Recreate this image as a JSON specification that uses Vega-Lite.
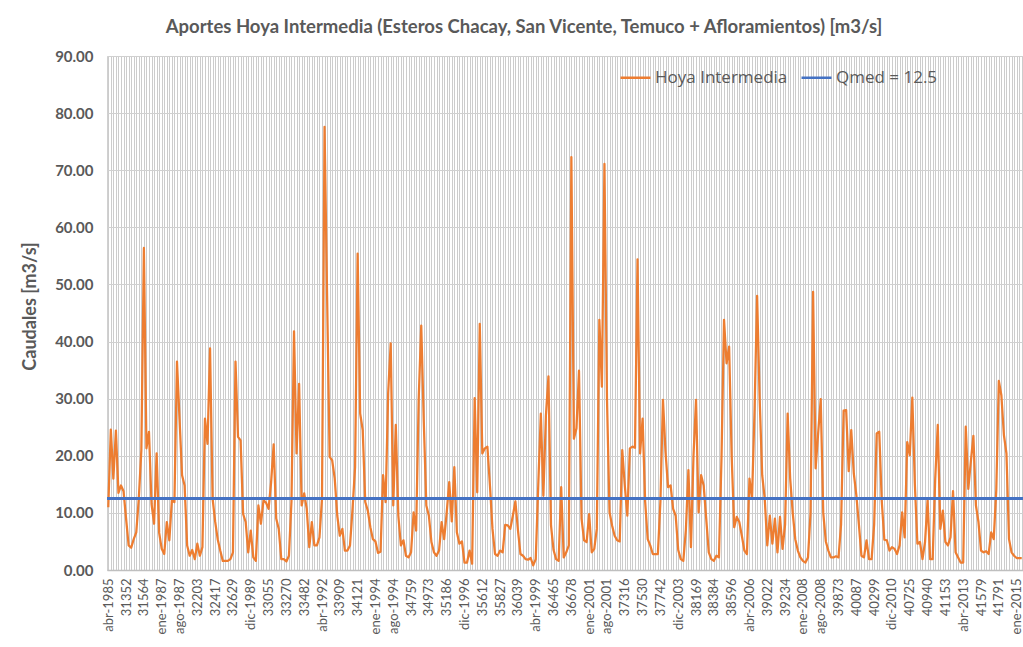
{
  "$schema": "https://vega.github.io/schema/vega-lite/v6.json",
  "autosize": {"type": "none"},
  "width": 916,
  "height": 514,
  "padding": {"left": 107, "top": 56, "right": 0, "bottom": 77},
  "background": "white",
  "title": {
    "text": "Aportes Hoya Intermedia (Esteros Chacay, San Vicente, Temuco + Afloramientos) [m3/s]",
    "font": "Lato", "fontSize": 18.5, "fontWeight": "bold", "color": "#595959",
    "anchor": "middle", "dx": -41, "offset": 13
  },
  "data": {"values": [
{"i":0,"q":11.0},{"i":1,"q":24.6},{"i":2,"q":16.0},{"i":3,"q":24.4},{"i":4,"q":13.5},{"i":5,"q":14.8},{"i":6,"q":13.8},{"i":7,"q":9.0},{"i":8,"q":4.3},{"i":9,"q":3.9},
{"i":10,"q":5.4},{"i":11,"q":6.6},{"i":12,"q":12.5},{"i":13,"q":21.0},{"i":14,"q":56.4},{"i":15,"q":21.3},{"i":16,"q":24.2},{"i":17,"q":11.6},{"i":18,"q":8.1},{"i":19,"q":20.4},
{"i":20,"q":6.5},{"i":21,"q":3.7},{"i":22,"q":2.8},{"i":23,"q":8.4},{"i":24,"q":5.2},{"i":25,"q":12.2},{"i":26,"q":11.9},{"i":27,"q":36.5},{"i":28,"q":26.5},{"i":29,"q":16.6},
{"i":30,"q":14.8},{"i":31,"q":4.3},{"i":32,"q":2.5},{"i":33,"q":3.5},{"i":34,"q":1.9},{"i":35,"q":4.6},{"i":36,"q":2.5},{"i":37,"q":4.0},{"i":38,"q":26.5},{"i":39,"q":22.1},
{"i":40,"q":38.8},{"i":41,"q":12.5},{"i":42,"q":8.5},{"i":43,"q":5.4},{"i":44,"q":3.4},{"i":45,"q":1.6},{"i":46,"q":1.6},{"i":47,"q":1.6},{"i":48,"q":1.9},{"i":49,"q":3.1},
{"i":50,"q":36.5},{"i":51,"q":23.3},{"i":52,"q":22.7},{"i":53,"q":9.8},{"i":54,"q":8.4},{"i":55,"q":3.1},{"i":56,"q":6.9},{"i":57,"q":2.2},{"i":58,"q":1.6},{"i":59,"q":11.3},
{"i":60,"q":8.1},{"i":61,"q":12.2},{"i":62,"q":11.8},{"i":63,"q":10.7},{"i":64,"q":15.4},{"i":65,"q":22.0},{"i":66,"q":9.0},{"i":67,"q":7.2},{"i":68,"q":1.9},{"i":69,"q":1.9},
{"i":70,"q":1.5},{"i":71,"q":2.5},{"i":72,"q":12.0},{"i":73,"q":41.8},{"i":74,"q":20.4},{"i":75,"q":32.6},{"i":76,"q":11.3},{"i":77,"q":13.4},{"i":78,"q":10.7},{"i":79,"q":4.0},
{"i":80,"q":8.4},{"i":81,"q":4.3},{"i":82,"q":4.3},{"i":83,"q":5.7},{"i":84,"q":12.5},{"i":85,"q":77.6},{"i":86,"q":48.0},{"i":87,"q":19.8},{"i":88,"q":19.2},{"i":89,"q":16.0},
{"i":90,"q":9.5},{"i":91,"q":6.0},{"i":92,"q":7.2},{"i":93,"q":3.4},{"i":94,"q":3.4},{"i":95,"q":4.3},{"i":96,"q":10.7},{"i":97,"q":18.0},{"i":98,"q":55.4},{"i":99,"q":27.4},
{"i":100,"q":24.5},{"i":101,"q":11.9},{"i":102,"q":10.4},{"i":103,"q":7.5},{"i":104,"q":5.4},{"i":105,"q":5.0},{"i":106,"q":3.0},{"i":107,"q":3.2},{"i":108,"q":16.6},{"i":109,"q":11.9},
{"i":110,"q":31.0},{"i":111,"q":39.7},{"i":112,"q":11.3},{"i":113,"q":25.4},{"i":114,"q":9.5},{"i":115,"q":4.3},{"i":116,"q":5.2},{"i":117,"q":2.5},{"i":118,"q":2.2},{"i":119,"q":3.1},
{"i":120,"q":10.1},{"i":121,"q":6.9},{"i":122,"q":30.0},{"i":123,"q":42.8},{"i":124,"q":26.0},{"i":125,"q":11.3},{"i":126,"q":9.5},{"i":127,"q":4.9},{"i":128,"q":3.1},{"i":129,"q":2.5},
{"i":130,"q":3.4},{"i":131,"q":8.4},{"i":132,"q":5.4},{"i":133,"q":10.0},{"i":134,"q":15.4},{"i":135,"q":8.5},{"i":136,"q":18.0},{"i":137,"q":6.6},{"i":138,"q":4.6},{"i":139,"q":5.0},
{"i":140,"q":1.3},{"i":141,"q":1.3},{"i":142,"q":3.4},{"i":143,"q":1.1},{"i":144,"q":30.1},{"i":145,"q":13.6},{"i":146,"q":43.1},{"i":147,"q":20.4},{"i":148,"q":21.3},{"i":149,"q":21.6},
{"i":150,"q":14.8},{"i":151,"q":7.2},{"i":152,"q":2.8},{"i":153,"q":2.5},{"i":154,"q":3.4},{"i":155,"q":3.1},{"i":156,"q":7.9},{"i":157,"q":7.8},{"i":158,"q":7.2},{"i":159,"q":9.5},
{"i":160,"q":12.0},{"i":161,"q":7.0},{"i":162,"q":2.8},{"i":163,"q":2.5},{"i":164,"q":1.9},{"i":165,"q":1.8},{"i":166,"q":2.1},{"i":167,"q":0.8},{"i":168,"q":1.9},{"i":169,"q":15.0},
{"i":170,"q":27.4},{"i":171,"q":13.0},{"i":172,"q":27.1},{"i":173,"q":33.9},{"i":174,"q":7.8},{"i":175,"q":3.5},{"i":176,"q":1.9},{"i":177,"q":1.6},{"i":178,"q":14.5},{"i":179,"q":2.2},
{"i":180,"q":3.1},{"i":181,"q":4.3},{"i":182,"q":72.3},{"i":183,"q":23.0},{"i":184,"q":24.8},{"i":185,"q":34.9},{"i":186,"q":9.0},{"i":187,"q":5.2},{"i":188,"q":4.9},{"i":189,"q":9.8},
{"i":190,"q":3.1},{"i":191,"q":3.7},{"i":192,"q":7.2},{"i":193,"q":43.8},{"i":194,"q":32.1},{"i":195,"q":71.1},{"i":196,"q":30.0},{"i":197,"q":10.1},{"i":198,"q":7.8},{"i":199,"q":6.0},
{"i":200,"q":5.2},{"i":201,"q":5.0},{"i":202,"q":21.0},{"i":203,"q":14.8},{"i":204,"q":9.5},{"i":205,"q":21.3},{"i":206,"q":21.6},{"i":207,"q":21.4},{"i":208,"q":54.4},{"i":209,"q":20.4},
{"i":210,"q":26.5},{"i":211,"q":12.0},{"i":212,"q":5.4},{"i":213,"q":4.3},{"i":214,"q":2.8},{"i":215,"q":2.8},{"i":216,"q":2.8},{"i":217,"q":12.0},{"i":218,"q":29.8},{"i":219,"q":20.7},
{"i":220,"q":14.5},{"i":221,"q":14.8},{"i":222,"q":10.7},{"i":223,"q":9.5},{"i":224,"q":3.5},{"i":225,"q":1.9},{"i":226,"q":1.6},{"i":227,"q":7.0},{"i":228,"q":17.5},{"i":229,"q":4.0},
{"i":230,"q":20.0},{"i":231,"q":29.8},{"i":232,"q":10.1},{"i":233,"q":16.6},{"i":234,"q":14.8},{"i":235,"q":9.0},{"i":236,"q":3.1},{"i":237,"q":1.9},{"i":238,"q":1.6},{"i":239,"q":2.5},
{"i":240,"q":2.2},{"i":241,"q":19.5},{"i":242,"q":43.8},{"i":243,"q":36.2},{"i":244,"q":39.1},{"i":245,"q":20.0},{"i":246,"q":7.5},{"i":247,"q":9.3},{"i":248,"q":8.4},{"i":249,"q":6.0},
{"i":250,"q":3.4},{"i":251,"q":2.8},{"i":252,"q":16.0},{"i":253,"q":12.5},{"i":254,"q":28.0},{"i":255,"q":48.0},{"i":256,"q":30.0},{"i":257,"q":16.6},{"i":258,"q":12.5},{"i":259,"q":4.3},
{"i":260,"q":9.5},{"i":261,"q":4.6},{"i":262,"q":9.0},{"i":263,"q":3.1},{"i":264,"q":9.3},{"i":265,"q":3.7},{"i":266,"q":8.0},{"i":267,"q":27.4},{"i":268,"q":16.0},{"i":269,"q":10.0},
{"i":270,"q":5.4},{"i":271,"q":3.4},{"i":272,"q":2.2},{"i":273,"q":1.6},{"i":274,"q":1.3},{"i":275,"q":2.2},{"i":276,"q":10.0},{"i":277,"q":48.7},{"i":278,"q":17.8},{"i":279,"q":24.0},
{"i":280,"q":29.9},{"i":281,"q":10.0},{"i":282,"q":5.0},{"i":283,"q":3.4},{"i":284,"q":2.2},{"i":285,"q":2.2},{"i":286,"q":2.4},{"i":287,"q":2.2},{"i":288,"q":8.0},{"i":289,"q":27.9},
{"i":290,"q":28.0},{"i":291,"q":17.3},{"i":292,"q":24.5},{"i":293,"q":16.9},{"i":294,"q":13.1},{"i":295,"q":8.0},{"i":296,"q":2.5},{"i":297,"q":2.2},{"i":298,"q":5.2},{"i":299,"q":1.9},
{"i":300,"q":1.9},{"i":301,"q":8.0},{"i":302,"q":23.9},{"i":303,"q":24.2},{"i":304,"q":12.0},{"i":305,"q":5.3},{"i":306,"q":5.2},{"i":307,"q":3.4},{"i":308,"q":4.0},{"i":309,"q":3.7},
{"i":310,"q":2.8},{"i":311,"q":4.3},{"i":312,"q":10.1},{"i":313,"q":5.7},{"i":314,"q":22.4},{"i":315,"q":20.1},{"i":316,"q":30.2},{"i":317,"q":15.0},{"i":318,"q":4.6},{"i":319,"q":4.9},
{"i":320,"q":1.9},{"i":321,"q":4.9},{"i":322,"q":12.2},{"i":323,"q":1.9},{"i":324,"q":1.9},{"i":325,"q":16.0},{"i":326,"q":25.4},{"i":327,"q":7.2},{"i":328,"q":10.4},{"i":329,"q":4.9},
{"i":330,"q":4.3},{"i":331,"q":5.7},{"i":332,"q":13.8},{"i":333,"q":3.1},{"i":334,"q":2.2},{"i":335,"q":1.3},{"i":336,"q":1.3},{"i":337,"q":25.1},{"i":338,"q":14.2},{"i":339,"q":19.0},
{"i":340,"q":23.5},{"i":341,"q":11.3},{"i":342,"q":8.4},{"i":343,"q":3.4},{"i":344,"q":3.1},{"i":345,"q":3.3},{"i":346,"q":2.8},{"i":347,"q":6.6},{"i":348,"q":5.4},{"i":349,"q":14.0},
{"i":350,"q":33.1},{"i":351,"q":30.6},{"i":352,"q":23.6},{"i":353,"q":20.4},{"i":354,"q":5.4},{"i":355,"q":3.1},{"i":356,"q":2.5},{"i":357,"q":2.1},{"i":358,"q":2.1},{"i":359,"q":2.1}
  ]},
  "layer": [
    {
      "mark": {"type": "line", "strokeWidth": 2.25, "strokeJoin": "round"},
      "encoding": {
        "x": {
          "field": "i", "type": "quantitative",
          "scale": {"domain": [-0.5, 359.5], "nice": false, "zero": false},
          "axis": {
            "title": null, "tickCount": 360, "grid": true, "gridColor": "#cccccc", "gridWidth": 1,
            "ticks": false, "domainColor": "#bfbfbf", "domainWidth": 1.5,
            "labelAngle": -90, "labelPadding": 8, "labelOverlap": false, "labelBound": false, "labelFlush": false,
            "labelFont": "Lato", "labelFontSize": 13, "labelColor": "#595959",
            "labelExpr": "datum.value % 7 === 0 ? ['abr-1985','31352','31564','ene-1987','ago-1987','32203','32417','32629','dic-1989','33055','33270','33482','abr-1992','33909','34121','ene-1994','ago-1994','34759','34973','35186','dic-1996','35612','35827','36039','abr-1999','36465','36678','ene-2001','ago-2001','37316','37530','37742','dic-2003','38169','38384','38596','abr-2006','39022','39234','ene-2008','ago-2008','39873','40087','40299','dic-2010','40725','40940','41153','abr-2013','41579','41791','ene-2015'][round(datum.value / 7)] : ''"
          }
        },
        "y": {
          "field": "q", "type": "quantitative",
          "scale": {"domain": [0, 90], "nice": false},
          "axis": {
            "title": "Caudales [m3/s]", "values": [0,10,20,30,40,50,60,70,80,90], "format": ".2f",
            "grid": true, "gridColor": "#d0d0d0", "domain": false, "ticks": false, "tickSize": 0,
            "labelPadding": 14, "labelFont": "Lato", "labelFontSize": 15, "labelFontWeight": "bold", "labelColor": "#595959",
            "titleFont": "Lato", "titleFontSize": 18, "titleFontWeight": "bold", "titleColor": "#595959",
            "titleX": -77, "titleY": 250, "titleAngle": -90, "titleAlign": "center", "titleBaseline": "middle"
          }
        },
        "color": {
          "datum": "Hoya Intermedia",
          "scale": {"domain": ["Hoya Intermedia", "Qmed = 12.5"], "range": ["#ED7D31", "#4472C4"]},
          "legend": {
            "title": null, "orient": "none", "legendX": 512, "legendY": 5, "direction": "horizontal",
            "symbolType": "stroke", "symbolStrokeWidth": 2.5, "symbolSize": 900,
            "labelFont": "Open Sans", "labelFontSize": 17, "labelColor": "#595959", "labelOffset": 3,
            "columnPadding": 8
          }
        }
      }
    },
    {
      "mark": {"type": "rule", "strokeWidth": 2.25},
      "encoding": {
        "y": {"datum": 12.5},
        "color": {"datum": "Qmed = 12.5"}
      }
    }
  ],
  "config": {
    "view": {"stroke": "#d0d0d0"}
  }
}
